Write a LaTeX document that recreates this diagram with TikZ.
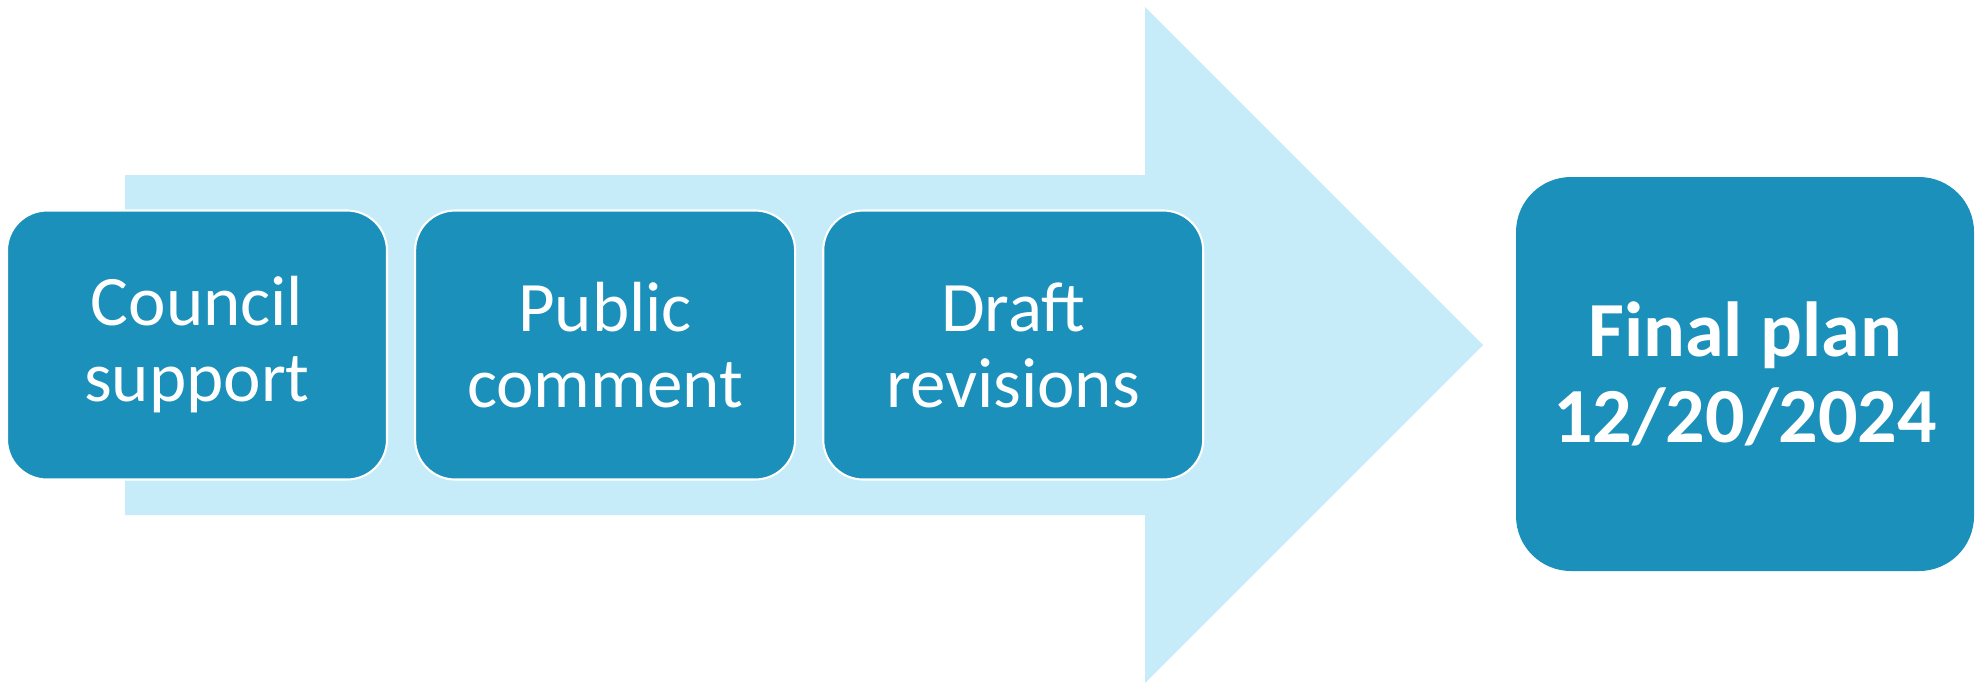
\documentclass[tikz,border=0pt]{standalone}
\usepackage{fontspec}
\setmainfont{Carlito}
\usetikzlibrary{positioning}

\definecolor{stepblue}{RGB}{27,144,186}
\definecolor{arrowblue}{RGB}{198,235,249}

\begin{document}
\begin{tikzpicture}[
    x=0.1mm, y=0.1mm,
    every node/.style={align=center, text=white, inner sep=0pt},
    stepbox/.style={fill=stepblue, draw=white, line width=0.6pt, rounded corners=4mm,
        minimum width=38mm, minimum height=26.9mm, font=\fontsize{20.2}{21.6}\selectfont},
    goalbox/.style={fill=stepblue, rounded corners=5.5mm,
        minimum width=45.8mm, minimum height=39.4mm, font=\bfseries\fontsize{22.2}{24.5}\selectfont}
]
\useasboundingbox (0,0) rectangle (1982,685);
% big pale arrow behind the steps
\fill[arrowblue] (125,170) -- (1145,170) -- (1145,2) -- (1483,340)
    -- (1145,678) -- (1145,510) -- (125,510) -- cycle;
\node[stepbox] (council) at (197,340) {Council\\support};
\node[stepbox, right=2.6mm of council] (public) {Public\\comment};
\node[stepbox, right=2.6mm of public] (draft) {Draft\\revisions};
\node[goalbox] (final) at (1745,311) {Final plan\\12/20/2024};
\end{tikzpicture}
\end{document}
